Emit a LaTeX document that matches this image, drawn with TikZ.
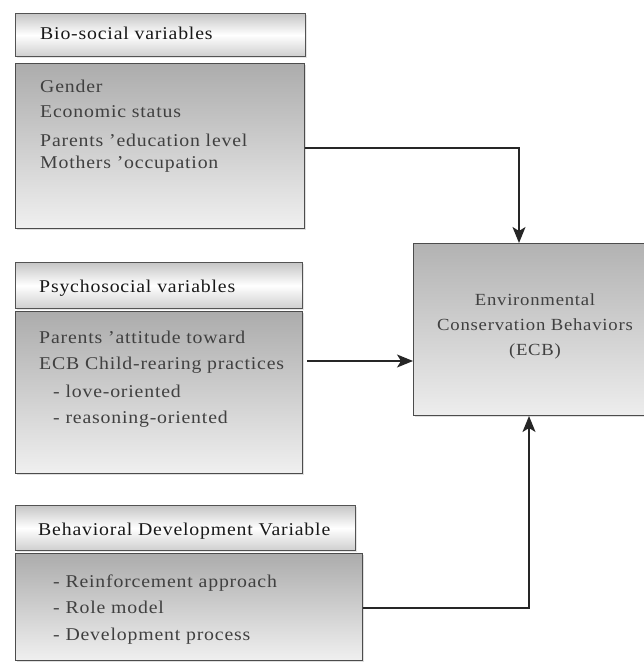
\documentclass[tikz,border=0pt]{standalone}
\usepackage{fontspec}
\setmainfont{Liberation Serif}[FakeStretch=1.1,LetterSpace=4.5]
\usetikzlibrary{arrows.meta,shadows}
\begin{document}
\begin{tikzpicture}[x=1pt,y=-1pt,
  hdr/.style={rectangle, draw=gray!65!black, line width=1pt, top color=gray!45, bottom color=gray!38, middle color=white, anchor=north west, inner sep=0pt,
    drop shadow={opacity=0.2, shadow xshift=1.5pt, shadow yshift=-1.5pt}},
  bodybox/.style={rectangle, draw=gray!60!black, line width=1pt, top color=gray!65, bottom color=gray!12, anchor=north west, inner sep=0pt,
    drop shadow={opacity=0.25, shadow xshift=1.5pt, shadow yshift=-1.5pt}},
  ecbbox/.style={rectangle, draw=gray!60!black, line width=1pt, top color=gray!60, bottom color=gray!14, anchor=north west, inner sep=0pt,
    drop shadow={opacity=0.25, shadow xshift=1.5pt, shadow yshift=-1.5pt}},
  htext/.style={anchor=base west, inner sep=0pt, font=\fontsize{18}{21}\selectfont, text=black!90},
  btext/.style={anchor=base west, inner sep=0pt, font=\fontsize{18}{21}\selectfont, text=black!75},
  ctext/.style={anchor=base, inner sep=0pt, font=\fontsize{17}{20}\selectfont, text=black!75},
  arr/.style={-{Stealth[length=16pt,width=13pt,inset=4pt]}, line width=1.5pt, draw=black!85}]
\useasboundingbox (0,0) rectangle (643,663);
\fill[white] (0,0) rectangle (643,663);
% boxes
\node[hdr, minimum width=290pt, minimum height=43pt] (bh) at (15,13) {};
\node[bodybox, minimum width=289pt, minimum height=165pt] (bb) at (15,63) {};
\node[hdr, minimum width=287pt, minimum height=46pt] (ph) at (15,262) {};
\node[bodybox, minimum width=287pt, minimum height=162pt] (pb) at (15,311) {};
\node[hdr, minimum width=340pt, minimum height=45pt] (dh) at (15,505) {};
\node[bodybox, minimum width=347pt, minimum height=107pt] (db) at (15,553) {};
\node[ecbbox, minimum width=244pt, minimum height=172pt] (ecb) at (413,243) {};
% texts
\node[htext] (t1) at (40,40) {Bio-social variables};
\node[btext] (t2) at (40,93) {Gender};
\node[btext] (t3) at (40,118) {Economic status};
\node[btext] (t4) at (40,147) {Parents 'education level};
\node[btext] (t5) at (40,168) {Mothers 'occupation};
\node[htext] (t6) at (39,292) {Psychosocial variables};
\node[btext] (t7) at (39,343) {Parents 'attitude toward};
\node[btext] (t8) at (39,369) {ECB Child-rearing practices};
\node[btext] (t9) at (53,397) {- love-oriented};
\node[btext] (t10) at (53,423) {- reasoning-oriented};
\node[htext] (t11) at (38,535) {Behavioral Development Variable};
\node[btext] (t12) at (53,587) {- Reinforcement approach};
\node[btext] (t13) at (53,613) {- Role model};
\node[btext] (t14) at (53,640) {- Development process};
\node[ctext] (t15) at (535,305) {Environmental};
\node[ctext] (t16) at (535,330) {Conservation Behaviors};
\node[ctext] (t17) at (535,355) {(ECB)};
% connectors
\coordinate (c1) at (0,148);
\coordinate (c2) at (519,0);
\coordinate (c3) at (0,361);
\coordinate (c4) at (0,608);
\coordinate (c5) at (529,0);
\draw[arr] (bb.east |- c1) -| (ecb.north -| c2);
\draw[arr] ([xshift=4pt]pb.east |- c3) -- (ecb.west |- c3);
\draw[arr] (db.east |- c4) -| (ecb.south -| c5);
\end{tikzpicture}
\end{document}
